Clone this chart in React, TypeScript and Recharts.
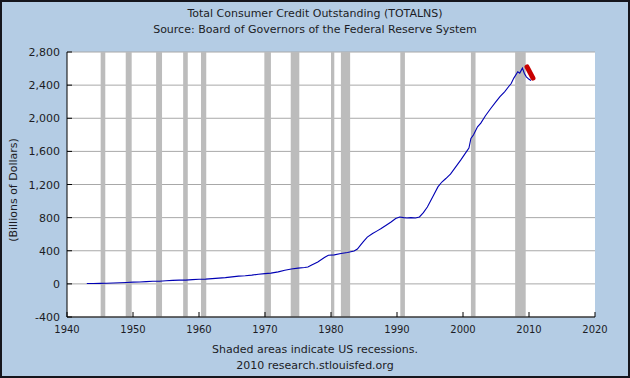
import React from 'react';
import { LineChart, Line, XAxis, YAxis, CartesianGrid, ReferenceArea } from 'recharts';

const blueYears = [
  1943, 1944, 1945, 1946, 1947, 1948, 1949, 1950, 1951, 1952, 1953, 1954, 1955, 1956, 1957, 1958,
  1959, 1960, 1961, 1962, 1963, 1964, 1965, 1966, 1967, 1968, 1969, 1970, 1970.9, 1972, 1973, 1974,
  1975, 1976, 1976.5, 1977, 1978, 1979, 1979.6, 1980.5, 1981.5, 1982.5, 1983.5, 1984, 1984.5, 1985,
  1985.5, 1986.3, 1987, 1987.6, 1988.3, 1989.1, 1989.8, 1990.4, 1991, 1991.5, 1992.1, 1992.8, 1993.4,
  1994, 1994.6, 1995.4, 1996.2, 1996.8, 1997.4, 1997.9, 1998.1, 1998.9, 1999.7, 2000.5, 2000.9, 2001.2,
  2001.6, 2002.2, 2002.7, 2003.4, 2004.2, 2005, 2005.6, 2006.3, 2006.9, 2007.3, 2007.7, 2008.3, 2008.6,
  2009, 2009.3, 2009.6, 2010, 2010.3,
];
const blueValues = [
  5, 4.5, 5.5, 8, 11, 14, 17, 21, 22, 27, 31, 32, 38, 42, 45, 45,
  51, 56, 57, 63, 70, 76, 85, 93, 98, 106, 116, 124, 130, 145, 165, 180,
  190, 198, 204, 225, 265, 318, 346, 350, 366, 378, 396, 420, 470, 520,
  565, 608, 640, 668, 705, 748, 790, 808, 800, 796, 800, 795, 808,
  860, 929, 1050, 1171, 1230, 1272, 1310, 1325, 1413, 1500, 1594, 1640, 1756,
  1800, 1896, 1941, 2030, 2118, 2200, 2260, 2319, 2380, 2420, 2485, 2561, 2545,
  2605, 2540, 2500, 2470, 2455,
];
const redYears = [2009.7, 2010.6];
const redValues = [2620, 2485];

const recessionStarts = [1945.1, 1948.9, 1953.5, 1957.6, 1960.3, 1969.9, 1973.9, 1980.0, 1981.5, 1990.5, 2001.2, 2007.9];
const recessionEnds = [1945.8, 1949.8, 1954.4, 1958.3, 1961.1, 1970.9, 1975.2, 1980.5, 1982.9, 1991.2, 2001.9, 2009.5];

const xTicks = [1940, 1950, 1960, 1970, 1980, 1990, 2000, 2010, 2020];
const yTicks = [-400, 0, 400, 800, 1200, 1600, 2000, 2400, 2800];

const blueData = blueYears.map((year, i) => ({ year, value: blueValues[i] }));
const redData = redYears.map((year, i) => ({ year, value: redValues[i] }));

const FONT = '"DejaVu Sans", Verdana, sans-serif';
const TEXT = '#1c1c24';

function XTick({ x, y, payload }: any) {
  return (
    <g>
      <line x1={x} x2={x} y1={y} y2={y - 5} stroke="#000" />
      <text x={x} y={y + 16} textAnchor="middle" fontSize={10} fontFamily={FONT} fill={TEXT}>
        {payload.value}
      </text>
    </g>
  );
}

function YTick({ x, y, payload }: any) {
  return (
    <g>
      <line x1={x} x2={x + 5} y1={y} y2={y} stroke="#000" />
      <text x={x - 7} y={y + 4} textAnchor="end" fontSize={11} fontFamily={FONT} fill={TEXT}>
        {Number(payload.value).toLocaleString('en-US')}
      </text>
    </g>
  );
}

export default function App() {
  return (
    <div style={{ position: 'absolute', left: 0, top: 0, width: 630, height: 378, background: '#b4cce4', fontFamily: FONT, color: TEXT }}>
      <div style={{ position: 'absolute', top: 6, width: 630, textAlign: 'center', fontSize: 11, lineHeight: '16px' }}>
        <div>Total Consumer Credit Outstanding (TOTALNS)</div>
        <div>Source: Board of Governors of the Federal Reserve System</div>
      </div>
      <div
        style={{
          position: 'absolute', left: 13, top: 190, fontSize: 11, whiteSpace: 'nowrap',
          transform: 'translate(-50%, -50%) rotate(-90deg)',
        }}
      >
        (Billions of Dollars)
      </div>
      <div style={{ position: 'absolute', left: 0, top: 342, width: 630, textAlign: 'center', fontSize: 11, lineHeight: '16px' }}>
        <div>Shaded areas indicate US recessions.</div>
        <div>2010 research.stlouisfed.org</div>
      </div>
      <div style={{ position: 'absolute', left: 0, top: 0 }}>
        <LineChart width={630} height={378} margin={{ top: 52, right: 35, bottom: 41, left: 0 }}>
          <CartesianGrid vertical={false} stroke="#a8a8a8" fill="#ffffff" fillOpacity={1} />
          <XAxis
            type="number"
            dataKey="year"
            domain={[1940, 2020]}
            ticks={xTicks}
            interval={0}
            height={20}
            tickSize={0}
            tickMargin={0}
            tickLine={false}
            stroke="#000"
            tick={<XTick />}
            allowDuplicatedCategory={false}
          />
          <YAxis
            type="number"
            domain={[-400, 2800]}
            ticks={yTicks}
            interval={0}
            width={67}
            tickSize={0}
            tickMargin={0}
            tickLine={false}
            stroke="#000"
            tick={<YTick />}
          />
          {recessionStarts.map((s, i) => (
            <ReferenceArea key={s} x1={s} x2={recessionEnds[i]} fill="#bcbcbc" fillOpacity={1} stroke="none" />
          ))}
          <Line data={blueData} dataKey="value" type="linear" stroke="#0000b4" strokeWidth={1.1} dot={false} isAnimationActive={false} />
          <Line data={redData} dataKey="value" type="linear" stroke="#c80000" strokeWidth={5} strokeLinecap="round" dot={false} isAnimationActive={false} />
        </LineChart>
      </div>
      <div style={{ position: 'absolute', left: 0, top: 0, width: 630, height: 378, boxSizing: 'border-box', border: '2px solid #15151c', pointerEvents: 'none' }} />
    </div>
  );
}
